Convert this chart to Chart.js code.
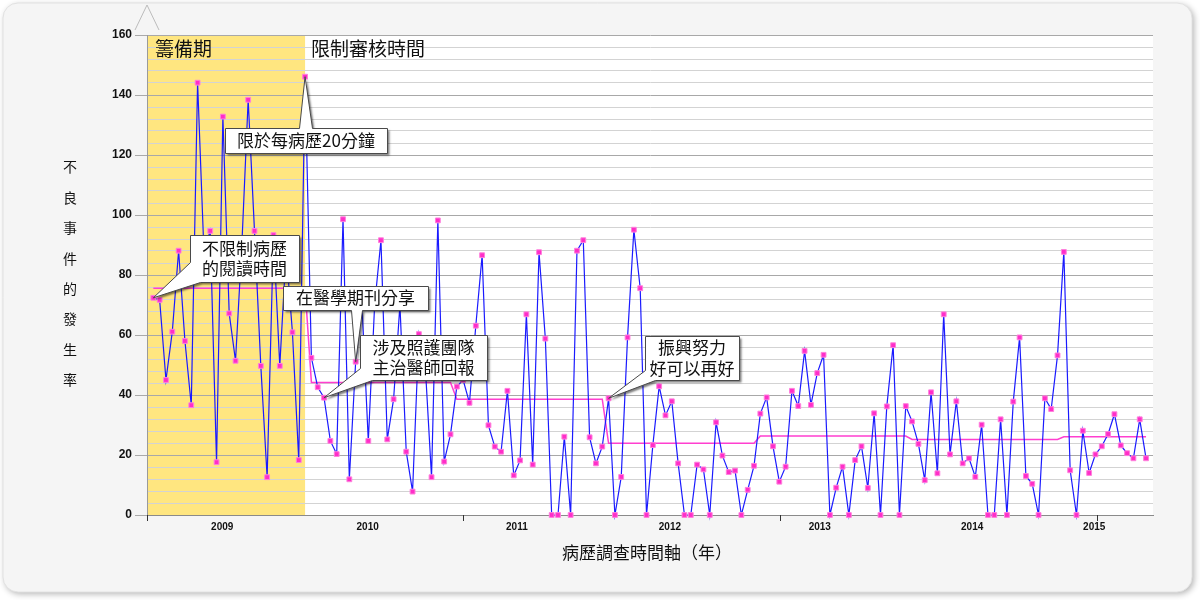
<!DOCTYPE html>
<html><head><meta charset="utf-8">
<script src="https://cdn.jsdelivr.net/npm/chart.js@4"></script>
<style>html,body{margin:0;padding:0;background:#fff;}#wrap{width:1200px;height:600px;}</style>
</head><body><div id="wrap"><canvas id="c" width="1200" height="600"></canvas></div>
<script>
// ---- data (semi-monthly adverse event rates) ----
const rates = [
 72.4,71.7,45.0,61.1,88.1,58.0,36.6,144.1,88,94.7,17.6,132.8,67.2,51.4,90,138.4,94.7,49.7,12.6,93.3,49.7,88,60.9,18.3,146.1,
 52.4,42.6,39.1,24.7,20.3,98.6,11.9,51.1,70,24.7,70,91.6,25.2,38.6,70,21.1,7.8,60.3,50,12.6,98.2,17.8,26.9,
 42.8,45,37.4,63.1,86.6,29.9,22.8,21.1,41.4,13.2,18.2,66.9,16.8,87.6,58.8,0,0,26.1,0,88.1,91.6,25.9,17.2,22.8,
 38.9,0,12.7,59.2,95.1,75.6,0,23.3,42.9,33.2,37.9,17.2,0,0,16.8,15.2,0,30.9,19.8,14.3,14.8,0,8.4,16.4,
 33.8,39.2,22.9,11.1,16.1,41.4,36.3,54.7,36.7,47.3,53.4,0,9.1,16.1,0,18.3,22.9,9.0,33.9,0,36.2,56.6,0,36.3,
 31.2,23.7,11.6,40.9,13.9,66.9,20.2,37.9,17.2,18.9,12.7,30.1,0,0,31.9,0,37.8,59.2,13,10.4,0,38.9,35.3,53.2,
 87.7,14.9,0,28.1,14,20.2,22.9,27,33.6,23.2,20.6,18.9,31.9,18.9
];
const meanStarts = [0, 25, 48, 72, 96, 120, 144];
const meanValues = [75.6, 44.2, 38.6, 23.9, 26.3, 25.2, 26.1];
const yearLabels = ['2009','2010','2011','2012','2013','2014','2015'];
const yearLabelAt = [10.9, 33.9, 57.5, 81.7, 105.4, 129.5, 148.8];
const yearTickAt = [-1, 49, 99.1, 149.2];
const prepEnd = 24;
const phaseNames = ['籌備期', '限制審核時間'];
const yTitle = '不良事件的發生率';
const xTitle = '病歷調查時間軸（年）';
const callouts = [
  {lines:['不限制病歷','的閱讀時間'], anchor:0,  outline:[[190,235],[299,235],[299,282],[200,282],'A',[190,262]]},
  {lines:['限於每病歷20分鐘'],         anchor:24, outline:[[225,128],[299,128],'A',[312,128],[387,128],[387,153],[225,153]]},
  {lines:['在醫學期刊分享'],           anchor:32, outline:[[283,286],[428,286],[428,310],[362,310],'A',[351,310],[283,310]]},
  {lines:['涉及照護團隊','主治醫師回報'], anchor:27, outline:[[360,335],[487,335],[487,380],[372,380],'A',[360,368]]},
  {lines:['振興努力','好可以再好'],     anchor:72, outline:[[645,336],[739,336],[739,380],[655,380],'A',[645,370]]}
];

// ---- build series ----
const ratePoints = rates.map((v, i) => ({x: i, y: v}));
const meanPoints = rates.map((v, i) => {
  let k = 0;
  for (let j = 0; j < meanStarts.length; j++) if (i >= meanStarts[j]) k = j;
  return {x: i, y: meanValues[k]};
});

const CJK = '"Noto Sans CJK TC","Noto Sans CJK SC",sans-serif';

function rr(ctx, x, y, w, h, r) {
  ctx.beginPath();
  ctx.moveTo(x + r, y); ctx.lineTo(x + w - r, y); ctx.arcTo(x + w, y, x + w, y + r, r);
  ctx.lineTo(x + w, y + h - r); ctx.arcTo(x + w, y + h, x + w - r, y + h, r);
  ctx.lineTo(x + r, y + h); ctx.arcTo(x, y + h, x, y + h - r, r);
  ctx.lineTo(x, y + r); ctx.arcTo(x, y, x + r, y, r); ctx.closePath();
}

const decor = {
  id: 'decor',
  beforeDraw(chart) {
    const {ctx, chartArea: a, scales: {x}} = chart;
    ctx.save();
    ctx.fillStyle = '#fff'; ctx.fillRect(0, 0, 1200, 600);
    ctx.shadowColor = 'rgba(0,0,0,0.30)'; ctx.shadowBlur = 6; ctx.shadowOffsetX = 2; ctx.shadowOffsetY = 2;
    ctx.fillStyle = '#f5f5f5';
    rr(ctx, 3, 3, 1189, 589, 15); ctx.fill();
    ctx.shadowColor = 'transparent';
    ctx.strokeStyle = '#e2e2e2'; ctx.lineWidth = 1; ctx.stroke();
    ctx.fillStyle = '#fff';
    ctx.fillRect(a.left, a.top, a.right - a.left, a.bottom - a.top);
    const xe = x.getPixelForValue(prepEnd);
    ctx.fillStyle = '#ffe680';
    ctx.fillRect(a.left, a.top, xe - a.left, a.bottom - a.top);
    // chevron at top of y axis
    ctx.strokeStyle = '#bcbcbc'; ctx.lineWidth = 1;
    ctx.beginPath();
    ctx.moveTo(a.left - 12, 30); ctx.lineTo(a.left, 5); ctx.lineTo(a.left + 12, 30);
    ctx.stroke();
    // axis titles
    ctx.fillStyle = '#111'; ctx.textAlign = 'center'; ctx.textBaseline = 'middle';
    ctx.font = '14px ' + CJK;
    [...yTitle].forEach((ch, k) => ctx.fillText(ch, 70, 167 + k * 30.4));
    ctx.font = '17px ' + CJK;
    ctx.fillText(xTitle, 647, 553);
    ctx.restore();
  },
  afterDatasetsDraw(chart) {
    const {ctx, chartArea: a, scales: {x}} = chart;
    const xe = x.getPixelForValue(prepEnd);
    ctx.save();
    ctx.fillStyle = '#111'; ctx.textAlign = 'left'; ctx.textBaseline = 'middle';
    ctx.font = '19px ' + CJK;
    ctx.fillText(phaseNames[0], a.left + 8, a.top + 14);
    ctx.fillText(phaseNames[1], xe + 6, a.top + 14);
    // x tick marks
    ctx.strokeStyle = '#333'; ctx.lineWidth = 1;
    yearTickAt.forEach(v => {
      const px = Math.round(x.getPixelForValue(v)) + 0.5;
      ctx.beginPath(); ctx.moveTo(px, a.bottom); ctx.lineTo(px, a.bottom + 6); ctx.stroke();
    });
    ctx.restore();
  },
  afterDraw(chart) {
    const {ctx, scales: {x, y}} = chart;
    callouts.forEach(c => {
      const ax = x.getPixelForValue(c.anchor), ay = y.getPixelForValue(rates[c.anchor]);
      const pts = c.outline.map(p => p === 'A' ? [ax, ay] : [p[0] + 0.5, p[1] + 0.5]);
      ctx.save();
      ctx.beginPath();
      pts.forEach((p, i) => i ? ctx.lineTo(p[0], p[1]) : ctx.moveTo(p[0], p[1]));
      ctx.closePath();
      ctx.shadowColor = 'rgba(0,0,0,0.5)'; ctx.shadowBlur = 2; ctx.shadowOffsetX = 2; ctx.shadowOffsetY = 2;
      ctx.fillStyle = '#fff'; ctx.fill();
      ctx.shadowColor = 'transparent';
      ctx.strokeStyle = '#4a4a4a'; ctx.lineWidth = 1; ctx.stroke();
      const rect = c.outline.filter(p => p !== 'A');
      const xs = rect.map(p => p[0]), ys = rect.map(p => p[1]);
      const l = Math.min(...xs), r = Math.max(...xs), t = Math.min(...ys), b = Math.max(...ys);
      ctx.fillStyle = '#111'; ctx.font = '17px ' + CJK; ctx.textAlign = 'center'; ctx.textBaseline = 'middle';
      const cx = (l + r) / 2, cy = (t + b) / 2, lh = 20.5;
      c.lines.forEach((s, i) => ctx.fillText(s, cx, cy + (i - (c.lines.length - 1) / 2) * lh));
      ctx.restore();
    });
  }
};

new Chart(document.getElementById('c'), {
  type: 'line',
  data: {
    datasets: [
      {label: '平均', data: meanPoints, borderColor: '#ff3fcf', borderWidth: 1.5, pointRadius: 0, order: 2, tension: 0, clip: false},
      {label: '發生率', data: ratePoints, borderColor: '#1a1aff', borderWidth: 1.2, tension: 0,
       pointStyle: 'rect', pointRadius: 3.4, pointBackgroundColor: '#ff2ec8', pointBorderColor: '#ff80dc', pointBorderWidth: 1,
       order: 1, clip: false}
    ]
  },
  options: {
    responsive: false, animation: false, devicePixelRatio: 1,
    layout: {padding: {top: 35, right: 47, left: 0, bottom: 0}},
    plugins: {legend: {display: false}, tooltip: {enabled: false}},
    scales: {
      x: {
        type: 'linear', min: -1, max: 158.1,
        afterFit(s) { s.height = 85; },
        afterBuildTicks(s) { s.ticks = yearLabelAt.map(v => ({value: v})); },
        ticks: {autoSkip: false, maxRotation: 0, padding: 6, callback: (v, i) => yearLabels[i],
                font: {family: 'Liberation Sans', size: 10, weight: 'bold'}, color: '#111'},
        grid: {display: false, drawTicks: false},
        border: {display: true, color: '#8a8a8a'}
      },
      y: {
        min: 0, max: 160,
        afterFit(s) { s.width = 147; },
        ticks: {stepSize: 4, autoSkip: false, padding: 3,
                callback: v => (v % 20 === 0 ? v : ''),
                font: {family: 'Liberation Sans', size: 12, weight: 'bold'}, color: '#111'},
        grid: {
          color: c => (c.tick && c.tick.value % 20 === 0 ? '#a8a8a8' : '#d3d3d3'),
          tickColor: c => (c.tick && c.tick.value % 20 === 0 ? '#aaaaaa' : 'rgba(0,0,0,0)'),
          tickLength: 12, lineWidth: 1
        },
        border: {color: '#9a9a9a'}
      }
    }
  },
  plugins: [decor]
});
</script></body></html>
